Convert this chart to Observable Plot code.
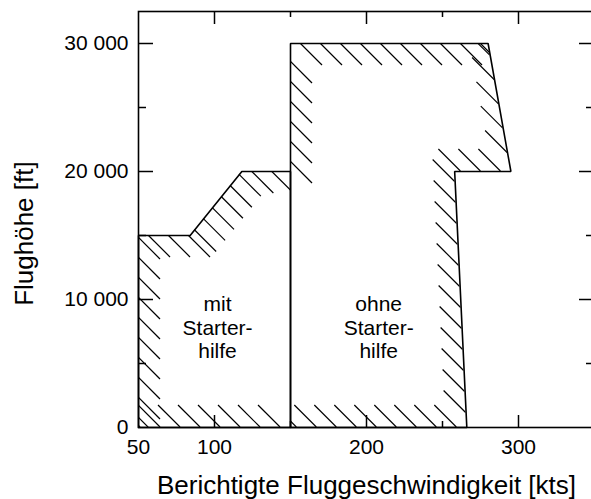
<!DOCTYPE html>
<html>
<head>
<meta charset="utf-8">
<script src="https://cdn.jsdelivr.net/npm/d3@7"></script>
<script src="https://cdn.jsdelivr.net/npm/@observablehq/plot@0.6"></script>
<style>
html, body { margin: 0; padding: 0; background: #fff; overflow: hidden; }
#chart svg { display: block; }
</style>
</head>
<body>
<div id="chart"></div>
<script>
// Envelope "mit Starterhilfe" (speed kts, altitude ft)
const mitX = [50, 50, 84, 118, 150, 150];
const mitY = [0, 15000, 15000, 20000, 20000, 0];
// Envelope "ohne Starterhilfe"
const ohneX = [150, 150, 150, 280, 295, 258, 266];
const ohneY = [0, 20000, 30000, 30000, 20000, 20000, 0];
// which edges (index i = vertex i -> i+1) carry hatching
const mitHatched = [0, 1, 2, 3, 5];
const ohneHatched = [1, 2, 3, 4, 5, 6];

const regionNames = ["mit", "ohne"];
const regionLabels = ["mit\nStarter-\nhilfe", "ohne\nStarter-\nhilfe"];
const labelX = [102, 208];
const labelY = [7850, 7850];

const xTickLabels = [50, 100, 200, 300];
const xMajor = [100, 200, 300];
const xMinor = [150, 250, 350];
const yTickLabels = [0, 10000, 20000, 30000];
const yMajor = [10000, 20000, 30000];
const yMinor = [5000, 15000, 25000];

const xTitle = "Berichtigte Fluggeschwindigkeit [kts]";
const yTitle = "Flughöhe [ft]";
const yTitleAt = 15150; // altitude level at which the rotated title is centred

const regions = [
  {name: regionNames[0], pts: mitX.map((x, i) => [x, mitY[i]]), hatched: mitHatched},
  {name: regionNames[1], pts: ohneX.map((x, i) => [x, ohneY[i]]), hatched: ohneHatched}
];
const outline = regions.flatMap(r => [...r.pts, r.pts[0]].map(([x, y]) => ({name: r.name, x, y})));
const labels = regionLabels.map((t, i) => ({t, x: labelX[i], y: labelY[i]}));

const fmt = d => d3.format(",")(d).replace(/,/g, " ");

const SPACING = 20;   // px between hatch lines (in x - y units)
const HLEN = 22;      // px extent of each hatch stroke along x and y

function hatchMark(index, scales) {
  const sx = scales.x, sy = scales.y;
  const g = d3.create("svg:g");
  regions.forEach(r => {
    const P = r.pts.map(([x, y]) => [sx(x), sy(y)]);
    const id = "hatch-clip-" + r.name;
    g.append("clipPath").attr("id", id)
      .append("polygon").attr("points", P.map(p => p.join(",")).join(" "));
    const gg = g.append("g").attr("clip-path", `url(#${id})`)
      .attr("stroke", "black").attr("stroke-width", 1.2).attr("fill", "none");
    r.hatched.forEach(ei => {
      const p0 = P[ei], p1 = P[(ei + 1) % P.length];
      const ex = p1[0] - p0[0], ey = p1[1] - p0[1];
      const len = Math.hypot(ex, ey);
      if (!len) return;
      let nx = -ey / len, ny = ex / len;
      const mx = (p0[0] + p1[0]) / 2, my = (p0[1] + p1[1]) / 2;
      if (!d3.polygonContains(P, [mx + nx * 2, my + ny * 2])) { nx = -nx; ny = -ny; }
      const s = (nx + ny) > 0 ? 1 : -1;
      const n = Math.abs(ex - ey) / SPACING;
      for (let t = 0.5; t < n; t++) {
        const f = t / n;
        const px = p0[0] + ex * f, py = p0[1] + ey * f;
        gg.append("line")
          .attr("x1", px).attr("y1", py)
          .attr("x2", px + s * HLEN).attr("y2", py + s * HLEN);
      }
    });
  });
  return g.node();
}

const chart = Plot.plot({
  width: 591,
  height: 499,
  marginLeft: 138,
  marginRight: -3,
  marginTop: 11,
  marginBottom: 72,
  style: {fontFamily: "'Liberation Sans', Arial, sans-serif", background: "#fff", color: "black"},
  x: {domain: [50, 350]},
  y: {domain: [0, 32500]},
  marks: [
    hatchMark,
    Plot.line(outline, {x: "x", y: "y", z: "name", stroke: "black", strokeWidth: 1.6, strokeLinejoin: "miter"}),
    Plot.text(labels, {x: "x", y: "y", text: "t", fontSize: 21, lineHeight: 1.12, lineAnchor: "middle", fill: "black"}),
    // inward ticks
    Plot.axisX(xMajor, {anchor: "bottom", tickSize: -12, strokeWidth: 1.5, fill: "none", label: null}),
    Plot.axisX(xMinor, {anchor: "bottom", tickSize: -6, strokeWidth: 1.5, fill: "none", label: null}),
    Plot.axisX(xMajor, {anchor: "top", tickSize: -12, strokeWidth: 1.5, fill: "none", label: null}),
    Plot.axisX(xMinor, {anchor: "top", tickSize: -5, strokeWidth: 1.5, fill: "none", label: null}),
    Plot.axisY(yMajor, {anchor: "left", tickSize: -15, strokeWidth: 1.5, fill: "none", label: null}),
    Plot.axisY(yMinor, {anchor: "left", tickSize: -8, strokeWidth: 1.5, fill: "none", label: null}),
    Plot.axisY(yMajor, {anchor: "right", tickSize: -16, strokeWidth: 1.5, fill: "none", label: null}),
    Plot.axisY(yMinor, {anchor: "right", tickSize: -9, strokeWidth: 1.5, fill: "none", label: null}),
    // tick labels
    Plot.axisX(xTickLabels, {anchor: "bottom", tickSize: 0, tickPadding: 12, fontSize: 21, tickFormat: d => String(d), label: null}),
    Plot.axisY(yTickLabels, {anchor: "left", tickSize: 0, tickPadding: 10, fontSize: 21, tickFormat: fmt, label: null}),
    Plot.frame({stroke: "black", strokeWidth: 1.6}),
    // axis titles
    Plot.text([xTitle], {text: d => d, frameAnchor: "bottom", textAnchor: "middle", dy: 58, fontSize: 26, lineAnchor: "middle", fill: "black"}),
    Plot.text([yTitle], {text: d => d, y: () => yTitleAt, frameAnchor: "left", textAnchor: "middle", dx: -114, rotate: -90, fontSize: 26, lineAnchor: "middle", fill: "black"})
  ]
});
document.getElementById("chart").appendChild(chart);
</script>
</body>
</html>
